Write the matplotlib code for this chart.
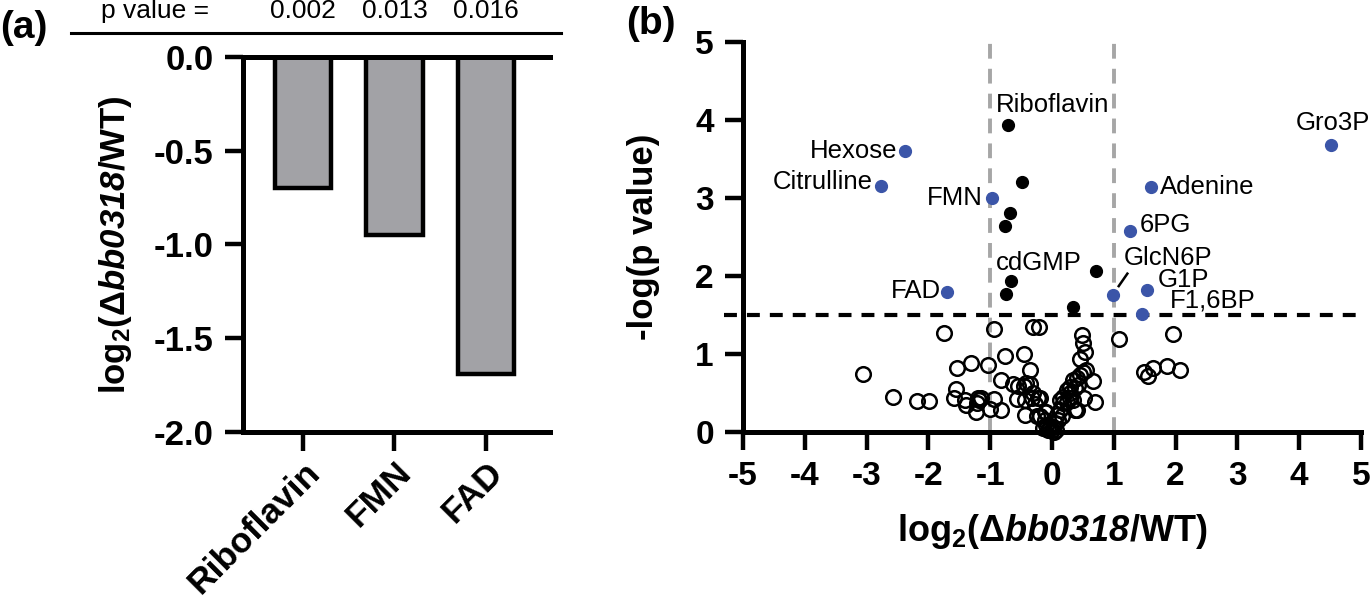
import matplotlib
matplotlib.use('Agg')
import matplotlib.pyplot as plt

plt.rcParams['font.family'] = ['Liberation Sans', 'DejaVu Sans']
plt.rcParams['mathtext.fontset'] = 'custom'
plt.rcParams['mathtext.rm'] = 'Liberation Sans:bold'
plt.rcParams['mathtext.it'] = 'Liberation Sans:italic:bold'
plt.rcParams['mathtext.sf'] = 'Liberation Sans:italic:bold'
plt.rcParams['mathtext.bf'] = 'Liberation Sans:bold'

# ---------------- data ----------------
bar_categories = ['Riboflavin', 'FMN', 'FAD']
bar_values = [-0.70, -0.95, -1.69]
bar_pvalues = ['0.002', '0.013', '0.016']

blue_names = ['Hexose', 'Citrulline', 'FMN', 'FAD', 'Adenine', 'Gro3P', '6PG',
              'GlcN6P', 'G1P', 'F1,6BP']
blue_x = [-2.38, -2.76, -0.97, -1.70, 1.61, 4.52, 1.26, 0.98, 1.53, 1.45]
blue_y = [3.60, 3.15, 3.00, 1.79, 3.14, 3.68, 2.58, 1.76, 1.82, 1.51]

black_names = ['Riboflavin', 'cdGMP', '', '', '', '', '', '']
black_x = [-0.71, 0.72, -0.48, -0.68, -0.76, -0.67, -0.74, 0.34]
black_y = [3.93, 2.06, 3.20, 2.81, 2.64, 1.93, 1.77, 1.60]

open_x = [-3.06, -2.58, -2.19, -1.99, -1.75, -1.54, -1.56, -1.58, -1.40, -1.39,
          -1.31, -1.23, -1.20, -1.15, -1.18, -1.22, -1.04, -0.94, -0.93, -1.00,
          -0.83, -0.83, -0.76, -0.46, -0.36, -0.63, -0.55, -0.46, -0.36, -0.57,
          -0.44, -0.33, -0.19, -0.28, -0.11, -0.19, -0.31, -0.21, -0.25, -0.44,
          -0.09, -0.42, -0.14, -0.09, -0.03, 0.02, 0.05, 0.10, 0.16, 0.08,
          0.13, -0.11, 0.00, -0.06, 0.06, 0.03, 0.18, 0.13, 0.18, 0.24,
          0.29, 0.34, 0.40, 0.37, 0.29, 0.24, 0.29, 0.37, 0.42, 0.34,
          0.40, 0.45, 0.51, 0.55, 0.45, 0.53, 0.51, 0.48, 0.67, 0.52,
          0.70, 1.09, 1.96, 1.49, 1.56, 1.64, 1.86, 2.07, -0.22, -0.30]
open_y = [0.74, 0.45, 0.40, 0.40, 1.27, 0.82, 0.55, 0.43, 0.41, 0.35,
          0.88, 0.25, 0.44, 0.44, 0.41, 0.37, 0.86, 1.32, 0.42, 0.30,
          0.28, 0.67, 0.97, 1.00, 0.80, 0.62, 0.59, 0.59, 0.62, 0.42,
          0.22, 0.43, 0.43, 0.36, 0.26, 0.20, 1.35, 1.35, 0.20, 0.41,
          0.25, 0.63, 0.05, 0.09, 0.05, 0.07, 0.11, 0.15, 0.20, 0.22,
          0.28, 0.15, 0.03, 0.02, 0.02, 0.00, 0.45, 0.41, 0.37, 0.39,
          0.43, 0.41, 0.28, 0.28, 0.58, 0.54, 0.50, 0.56, 0.60, 0.67,
          0.69, 0.73, 0.77, 0.79, 0.93, 1.03, 1.14, 1.24, 0.65, 0.43,
          0.38, 1.19, 1.26, 0.77, 0.72, 0.82, 0.85, 0.79, 0.43, 0.50]

# ---------------- layout / style ----------------
label_pos = {
    'Riboflavin': (-0.906, 4.19, 'left'),
    'cdGMP': (-0.906, 2.17, 'left'),
    'Hexose': (-2.50, 3.60, 'right'),
    'Citrulline': (-2.90, 3.20, 'right'),
    'FMN': (-1.12, 3.00, 'right'),
    'FAD': (-1.80, 1.81, 'right'),
    'Adenine': (1.74, 3.14, 'left'),
    'Gro3P': (3.95, 3.96, 'left'),
    '6PG': (1.42, 2.65, 'left'),
    'GlcN6P': (1.16, 2.23, 'left'),
    'G1P': (1.71, 1.95, 'left'),
    'F1,6BP': (1.90, 1.68, 'left'),
}
BLUE = '#3b55a8'
SPINE_W = 3.6
TICK_W = 3.2
ylab = r'$\mathrm{log_2(Δ}\mathsf{bb0318}\mathrm{/WT)}$'

fig = plt.figure(figsize=(13.71, 6.04), dpi=100)

# ---------------- panel a ----------------
ax = fig.add_axes([0.1772, 0.2848, 0.2239, 0.6209])
xpos = list(range(len(bar_categories)))
ax.bar(xpos, bar_values, width=0.62, color='#a2a2a6', edgecolor='black',
       linewidth=3.2, zorder=2)
ax.set_xlim(-0.656, 2.70)
ax.set_ylim(-2.0, 0.0)
ax.set_yticks([0.0, -0.5, -1.0, -1.5, -2.0])
ax.set_yticklabels(['0.0', '-0.5', '-1.0', '-1.5', '-2.0'])
ax.set_xticks(xpos)
ax.set_xticklabels(bar_categories, rotation=45, ha='right', va='top',
                   rotation_mode='anchor')
for lbl in ax.get_yticklabels():
    lbl.set_fontweight('bold')
    lbl.set_fontsize(25)
for lbl in ax.get_xticklabels():
    lbl.set_fontweight('bold')
    lbl.set_fontsize(25.5)
ax.spines['right'].set_visible(False)
for s in ['left', 'bottom', 'top']:
    ax.spines[s].set_linewidth(SPINE_W)
ax.tick_params(axis='y', length=13, width=TICK_W, pad=8)
ax.tick_params(axis='x', length=14, width=TICK_W, pad=3)
ax.set_ylabel(ylab, fontsize=25)
ax.yaxis.set_label_coords(-0.355, 0.5)

# p-value header
ax.plot([-0.56, 1.036], [1.064, 1.064], color='black', lw=2.2,
        transform=ax.transAxes, clip_on=False)
tr = ax.get_xaxis_transform()
ax.text(-1.62, 1.104, 'p value =', transform=tr, ha='center', va='baseline',
        fontsize=19)
for xi, pv in zip(xpos, bar_pvalues):
    ax.text(xi, 1.104, pv, transform=tr, ha='center', va='baseline',
            fontsize=19)

fig.text(0.0, 0.953, '(a)', fontsize=28, fontweight='bold', ha='left',
         va='center')
fig.text(0.457, 0.960, '(b)', fontsize=28, fontweight='bold', ha='left',
         va='center')

# ---------------- panel b ----------------
bx = fig.add_axes([0.5419, 0.2848, 0.4508, 0.6457])
bx.set_xlim(-5, 5)
bx.set_ylim(0, 5)
bx.axvline(-1, color='#a6a6a6', lw=2.8, dashes=(3.8, 2.6), zorder=1)
bx.axvline(1, color='#a6a6a6', lw=2.8, dashes=(3.8, 2.6), zorder=1)
bx.axhline(1.5, xmin=-0.03, xmax=1.0, color='black', lw=3.0,
           dashes=(3.1, 2.4), clip_on=False, zorder=1)
bx.plot(open_x, open_y, 'o', mfc='none', mec='black', mew=1.8, ms=10.5,
        linestyle='none', zorder=3, clip_on=False)
bx.plot(black_x, black_y, 'o', color='black', ms=8.5, linestyle='none',
        zorder=4)
bx.plot(blue_x, blue_y, 'o', color=BLUE, ms=8.5, linestyle='none', zorder=4)
for name in blue_names + black_names:
    if name in label_pos:
        lx, ly, ha = label_pos[name]
        bx.text(lx, ly, name, ha=ha, va='center', fontsize=18.5, zorder=5)
# leader line for GlcN6P
bx.plot([1.08, 1.22], [1.87, 2.03], color='black', lw=1.8, zorder=5)

bx.set_xticks(range(-5, 6))
bx.set_xticklabels([str(v) for v in range(-5, 6)])
bx.set_yticks(range(0, 6))
bx.set_yticklabels([str(v) for v in range(0, 6)])
for lbl in bx.get_xticklabels() + bx.get_yticklabels():
    lbl.set_fontweight('bold')
    lbl.set_fontsize(24)
bx.spines['right'].set_visible(False)
bx.spines['top'].set_visible(False)
for s in ['left', 'bottom']:
    bx.spines[s].set_linewidth(SPINE_W)
bx.tick_params(axis='both', length=13, width=TICK_W, pad=8)
bx.set_xlabel(ylab, fontsize=26, labelpad=14)
bx.set_ylabel('-log(p value)', fontsize=25, fontweight='bold')
bx.yaxis.set_label_coords(-0.134, 0.5)

fig.savefig('out.png', dpi=100)
